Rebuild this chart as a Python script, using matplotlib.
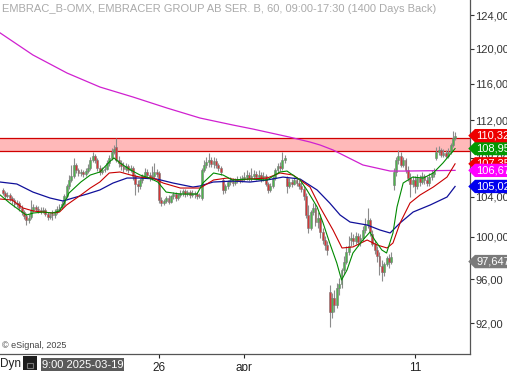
import matplotlib
matplotlib.use("Agg")
import matplotlib.pyplot as plt
import matplotlib.transforms as mtransforms
from matplotlib.path import Path
from matplotlib.patches import Rectangle
from matplotlib.ticker import FixedLocator, FixedFormatter, NullLocator
import numpy as np

TITLE = "EMBRAC_B-OMX, EMBRACER GROUP AB SER. B, 60, 09:00-17:30 (1400 Days Back)"

# hourly sessions shown (the first one is only partly on screen)
sessions = ["2025-03-14", "2025-03-17", "2025-03-18", "2025-03-19", "2025-03-20",
            "2025-03-21", "2025-03-24", "2025-03-25", "2025-03-26", "2025-03-27",
            "2025-03-28", "2025-03-31", "2025-04-01", "2025-04-02", "2025-04-03",
            "2025-04-04", "2025-04-07", "2025-04-08", "2025-04-09", "2025-04-10",
            "2025-04-11", "2025-04-14"]
bars_per_session = [3] + [9] * 21

tick_sessions = ["2025-03-26", "2025-04-01", "2025-04-11"]
tick_labels = ["26", "apr", "11"]

# OHLC, one row per session
opens = [
    104.66, 104.35, 104.05,
    104.15, 103.85, 103.65, 103.25, 103.35, 102.85, 102.45, 102.05, 101.66,
    101.95, 102.65, 102.95, 102.75, 102.65, 102.55, 102.65, 102.25, 101.95,
    102.25, 102.15, 102.45, 102.75, 102.95, 103.25, 104.05, 105.07, 105.68,
    106.09, 107.23, 106.71, 106.40, 106.50, 106.30, 106.61, 106.92, 107.75,
    108.17, 107.75, 106.92, 106.50, 106.71, 106.81, 107.44, 107.96, 108.59,
    109.11, 107.75, 107.44, 107.13, 106.81, 107.13, 106.71, 106.92, 106.09,
    105.27, 105.07, 105.68, 106.09, 106.50, 106.19, 105.88, 106.09, 106.50,
    106.40, 103.65, 103.35, 103.55, 103.85, 103.45, 104.05, 104.25, 103.85,
    104.15, 104.35, 104.56, 104.25, 104.45, 104.15, 104.35, 104.25, 104.05,
    103.85, 106.71, 107.23, 107.54, 107.75, 107.33, 107.65, 107.23, 106.92,
    105.68, 104.66, 105.07, 105.47, 105.68, 105.37, 105.57, 105.78, 105.68,
    105.88, 105.98, 106.19, 105.88, 106.09, 106.30, 105.98, 106.19, 105.88,
    106.09, 105.27, 104.66, 105.07, 105.88, 106.71, 107.13, 106.92, 107.75,
    105.88, 105.07, 105.47, 105.27, 105.68, 105.37, 105.07, 104.76, 104.05,
    102.15, 100.88, 102.45, 102.85, 101.46, 101.86, 100.48, 99.71, 99.23,
    94.81, 92.99, 94.26, 93.62, 95.18, 95.55, 96.85, 97.61, 98.56,
    99.71, 99.90, 99.61, 100.09, 99.52, 99.90, 100.68, 101.17, 101.66,
    100.29, 99.32, 98.75, 98.17, 97.23, 96.67, 97.42, 97.99, 97.61,
    105.17, 106.50, 107.75, 108.17, 107.23, 107.75, 106.71, 105.88, 105.27,
    105.68, 105.07, 105.88, 105.47, 106.09, 105.68, 105.37, 105.98, 106.30,
    107.96, 108.59, 108.80, 108.27, 108.48, 108.17, 108.59, 109.32, 110.07,
]
highs = [
    104.86, 104.56, 104.46,
    104.35, 104.05, 103.85, 103.65, 103.55, 103.15, 102.65, 102.35, 102.25,
    103.65, 103.25, 103.15, 103.05, 102.95, 102.95, 102.85, 102.45, 102.35,
    102.65, 102.75, 103.05, 103.25, 103.55, 104.25, 105.27, 106.19, 107.23,
    107.96, 107.44, 106.92, 106.81, 106.71, 106.92, 107.33, 108.06, 108.59,
    108.38, 107.96, 107.23, 107.02, 107.13, 107.75, 108.27, 109.01, 109.32,
    110.07, 108.17, 107.75, 107.54, 107.44, 107.33, 107.23, 107.13, 106.30,
    105.68, 105.88, 106.30, 106.92, 106.81, 106.50, 107.13, 107.44, 106.81,
    106.61, 103.95, 103.75, 104.05, 104.15, 104.15, 104.45, 104.45, 104.35,
    104.66, 104.76, 104.76, 104.66, 104.66, 104.66, 104.56, 104.45, 104.35,
    106.92, 107.75, 108.06, 108.48, 108.06, 108.06, 107.96, 107.44, 107.13,
    105.88, 105.27, 105.68, 105.98, 105.88, 105.88, 106.09, 106.09, 106.19,
    106.50, 106.71, 106.50, 106.92, 106.71, 106.61, 106.71, 106.50, 106.50,
    106.30, 105.47, 105.37, 106.09, 106.92, 107.44, 107.54, 108.59, 108.27,
    106.09, 105.88, 105.78, 105.98, 105.98, 105.68, 105.47, 105.07, 104.35,
    103.15, 102.65, 103.35, 103.25, 102.45, 102.25, 100.88, 100.09, 99.61,
    95.46, 94.72, 94.99, 95.64, 96.11, 97.04, 98.17, 99.13, 100.09,
    100.48, 100.29, 100.48, 100.39, 100.29, 101.07, 101.86, 102.85, 101.86,
    100.68, 99.71, 99.13, 98.56, 97.80, 97.61, 98.17, 98.37, 98.56,
    106.92, 108.06, 108.80, 108.59, 108.06, 107.96, 107.13, 106.40, 106.09,
    106.09, 106.30, 106.19, 106.50, 106.30, 106.09, 106.40, 106.71, 106.92,
    109.11, 109.22, 109.01, 108.90, 108.80, 109.01, 109.54, 110.81, 110.71,
]
lows = [
    104.15, 103.75, 103.85,
    103.55, 103.25, 102.95, 102.95, 102.55, 102.15, 101.76, 101.17, 101.37,
    101.76, 102.45, 102.55, 102.35, 102.25, 102.35, 102.05, 101.66, 101.76,
    101.66, 101.86, 102.25, 102.55, 102.75, 103.05, 103.85, 104.76, 105.47,
    105.88, 106.40, 106.09, 106.09, 105.98, 106.09, 106.40, 106.71, 107.54,
    107.44, 106.61, 106.19, 106.30, 106.50, 106.71, 107.13, 107.75, 108.38,
    107.54, 107.02, 106.71, 106.50, 106.61, 106.40, 106.50, 105.68, 104.15,
    104.45, 104.76, 105.37, 105.88, 105.88, 105.57, 105.68, 105.88, 105.98,
    103.35, 103.05, 103.15, 103.35, 103.25, 103.35, 103.75, 103.55, 103.65,
    103.95, 104.05, 103.95, 104.05, 103.85, 103.95, 103.85, 103.75, 103.85,
    103.65, 106.50, 106.92, 107.02, 107.02, 106.92, 106.92, 106.61, 106.19,
    104.25, 104.35, 104.76, 105.17, 105.07, 105.17, 105.37, 105.37, 105.47,
    105.57, 105.68, 105.57, 105.57, 105.78, 105.68, 105.78, 105.47, 105.57,
    105.07, 104.35, 104.45, 104.86, 105.68, 106.40, 106.61, 106.71, 107.44,
    104.35, 104.86, 104.96, 105.17, 105.07, 104.76, 104.45, 103.65, 101.86,
    100.39, 100.68, 102.15, 101.07, 100.88, 99.90, 99.32, 98.75, 98.27,
    91.65, 92.45, 92.99, 93.35, 94.54, 95.18, 96.48, 97.42, 98.27,
    99.13, 99.23, 99.32, 99.13, 99.13, 99.61, 100.39, 100.88, 100.09,
    99.13, 98.37, 97.61, 96.39, 95.83, 96.30, 97.23, 97.04, 97.42,
    104.66, 106.09, 107.33, 107.02, 107.02, 106.40, 105.57, 103.95, 104.96,
    104.35, 104.76, 105.07, 105.27, 105.27, 105.07, 105.07, 105.68, 105.98,
    107.75, 108.27, 108.06, 108.06, 107.96, 107.96, 108.38, 109.11, 109.86,
]
closes = [
    104.35, 104.05, 104.15,
    103.85, 103.65, 103.25, 103.35, 102.85, 102.45, 102.05, 101.66, 101.86,
    102.65, 102.95, 102.75, 102.65, 102.55, 102.65, 102.25, 101.95, 102.05,
    102.15, 102.45, 102.75, 102.95, 103.25, 104.05, 105.07, 105.68, 106.09,
    107.23, 106.71, 106.40, 106.50, 106.30, 106.61, 106.92, 107.75, 108.17,
    107.75, 106.92, 106.50, 106.71, 106.81, 107.44, 107.96, 108.59, 108.90,
    107.75, 107.44, 107.13, 106.81, 107.13, 106.71, 106.92, 106.09, 105.27,
    105.07, 105.68, 106.09, 106.50, 106.19, 105.88, 106.09, 106.50, 106.30,
    103.65, 103.35, 103.55, 103.85, 103.45, 104.05, 104.25, 103.85, 104.15,
    104.35, 104.56, 104.25, 104.45, 104.15, 104.35, 104.25, 104.05, 104.15,
    106.71, 107.23, 107.54, 107.75, 107.33, 107.65, 107.23, 106.92, 106.50,
    104.66, 105.07, 105.47, 105.68, 105.37, 105.57, 105.78, 105.68, 105.88,
    105.98, 106.19, 105.88, 106.09, 106.30, 105.98, 106.19, 105.88, 106.09,
    105.27, 104.66, 105.07, 105.88, 106.71, 107.13, 106.92, 107.75, 107.96,
    105.07, 105.47, 105.27, 105.68, 105.37, 105.07, 104.76, 104.05, 102.15,
    100.88, 102.45, 102.85, 101.46, 101.86, 100.48, 99.71, 99.23, 98.75,
    92.99, 94.26, 93.62, 95.18, 95.55, 96.85, 97.61, 98.56, 99.13,
    99.90, 99.61, 100.09, 99.52, 99.90, 100.68, 101.17, 101.66, 100.48,
    99.32, 98.75, 98.17, 97.23, 96.67, 97.42, 97.99, 97.61, 98.08,
    106.50, 107.75, 108.17, 107.23, 107.75, 106.71, 105.88, 105.27, 105.68,
    105.07, 105.88, 105.47, 106.09, 105.68, 105.37, 105.98, 106.30, 106.50,
    108.59, 108.80, 108.27, 108.48, 108.17, 108.59, 109.32, 110.07, 110.32,
]

# moving averages (x = bar number)
fast_x = [-1, 3, 7, 10, 13, 17, 21, 24, 26, 28, 33, 37, 41, 45, 47, 49.5, 54, 58,
          62, 65.5, 69, 75, 82, 84.5, 89, 93, 97, 104, 111.5, 117, 120, 125.5,
          128.4, 132.7, 135.2, 138, 141, 143, 145.3, 147.8, 152, 155, 157, 160,
          162, 164.7, 166.4, 169, 173, 177.5, 181.7, 185.8, 190.9]
fast_ma = [104.15, 103.35, 102.65, 102.15, 102.35, 102.45, 102.35, 102.55, 103.35,
           104.35, 105.47, 106.19, 106.50, 107.54, 107.96, 107.44, 106.71, 106.19,
           105.88, 105.47, 104.45, 104.25, 104.25, 105.37, 106.40, 106.19, 105.68,
           105.78, 105.68, 106.50, 106.60, 105.68, 104.66, 102.95, 101.37, 99.42,
           97.51, 95.92, 96.85, 98.46, 99.71, 100.48, 99.71, 98.75, 98.46, 100.39,
           102.95, 105.37, 105.98, 105.88, 106.40, 107.44, 108.95]

mid_x = [-1, 4, 8.6, 13, 17, 21, 24, 27, 33, 37, 41, 45, 49.5, 54, 58, 63.5, 67.7,
         75, 83.3, 89, 94.7, 99, 104, 111.6, 117, 122.5, 129.7, 133.9, 139.4,
         143.2, 147.8, 153.8, 158, 162.2, 164.7, 167.7, 171.9, 176.1, 181.7,
         187.5, 190.9]
mid_ma = [103.75, 103.65, 102.85, 102.55, 102.45, 102.35, 102.45, 103.15, 104.15,
          104.86, 105.47, 106.40, 106.50, 106.19, 105.98, 105.88, 105.37, 104.86,
          104.86, 105.68, 105.88, 105.68, 105.78, 105.88, 106.40, 106.19, 104.96,
          102.95, 100.68, 98.94, 99.04, 99.71, 99.23, 98.94, 99.42, 101.37, 103.35,
          104.15, 104.96, 105.98, 107.35]

slow_x = [-1, 6, 12.8, 20, 25.5, 29.7, 35.6, 41, 46.6, 52.5, 58, 65, 71.9, 80.3,
          83.3, 88.8, 97.2, 104.4, 111.6, 118.3, 125.5, 132.7, 138, 142.4, 146.6,
          153.8, 159.2, 163.5, 167.7, 173.2, 180.4, 187.5, 190.9]
slow_ma = [105.47, 105.27, 104.45, 103.85, 103.55, 103.85, 104.25, 104.66, 105.37,
           105.88, 105.88, 105.78, 105.37, 104.96, 105.07, 105.47, 105.57, 105.47,
           105.68, 105.98, 105.78, 104.66, 103.35, 102.15, 101.46, 101.17, 100.68,
           100.39, 101.37, 102.45, 103.15, 103.95, 105.02]

long_x = [-1, 12.8, 27.2, 41.1, 55, 69.4, 83.3, 97.2, 105.6, 121, 129.7, 134, 139.4,
          145.3, 152, 163.5, 170, 190.9]
long_ma = [121.86, 119.29, 117.22, 115.64, 114.53, 113.31, 112.22, 111.46, 111.03,
           110.17, 109.64, 109.32, 108.80, 108.06, 107.23, 106.60, 106.60, 106.67]

zone_low, zone_high = 108.70, 110.05

y_ticks = [92, 96, 100, 104, 108, 112, 116, 120, 124]

tag_values = [97.647, 105.02, 107.35, 106.67, 108.95, 110.32]
tag_texts = ["97,647", "105,02", "107,35", "106,67", "108,95", "110,32"]
tag_colors = ["#7a7a7a", "#0000ee", "#ee0000", "#ff00ff", "#009900", "#ee0000"]


def tag_box(x0, y0, width, height, mutation_size):
    # price tag: pointed on the left, runs off the right edge
    pad = mutation_size * 0.15
    x0, y0 = x0 - pad, y0 - pad
    height = height + 2 * pad
    tip = height / 2
    x1 = x0 + width + 60
    verts = [(x0 - tip, y0 + tip), (x0, y0), (x1, y0), (x1, y0 + height),
             (x0, y0 + height), (x0 - tip, y0 + tip), (x0 - tip, y0 + tip)]
    codes = [Path.MOVETO] + [Path.LINETO] * 5 + [Path.CLOSEPOLY]
    return Path(verts, codes)


plt.rcParams['font.family'] = ['Liberation Sans', 'DejaVu Sans']

fig = plt.figure(figsize=(5.07, 3.71), dpi=100)
ax = fig.add_axes([0, 17 / 371, 470 / 507, 354 / 371])

o = np.array(opens)
h = np.array(highs)
l = np.array(lows)
c = np.array(closes)
x = np.arange(len(c))

# zone
ax.axhspan(zone_low, zone_high, color='#ffb9b9', lw=0, zorder=1)
ax.axhline(zone_low, color='#d00000', lw=0.9, zorder=1.5)
ax.axhline(zone_high, color='#d00000', lw=0.9, zorder=1.5)

# candles
ax.vlines(x, l, h, color='#8c8c8c', lw=0.8, zorder=3)
up = c >= o
ax.bar(x[up], (c - o)[up], bottom=o[up], width=0.8, color='#4db54d',
       edgecolor='#7a7a7a', lw=0.4, zorder=4)
ax.bar(x[~up], (c - o)[~up], bottom=o[~up], width=0.8, color='#d43636',
       edgecolor='#7a7a7a', lw=0.4, zorder=4)

# averages
ax.plot(long_x, long_ma, color='#d020d0', lw=0.9, zorder=5)
ax.plot(slow_x, slow_ma, color='#10109a', lw=0.9, zorder=5)
ax.plot(mid_x, mid_ma, color='#c80000', lw=0.8, zorder=5)
ax.plot(fast_x, fast_ma, color='#008a00', lw=0.8, zorder=5)

ax.set_yscale('log')
ax.set_ylim(89.28, 125.82)
ax.set_xlim(-1.1, 197.2)

ax.yaxis.tick_right()
ax.yaxis.set_major_locator(FixedLocator(y_ticks))
ax.yaxis.set_major_formatter(FixedFormatter([f"{v},00" for v in y_ticks]))
ax.yaxis.set_minor_locator(NullLocator())

starts = np.cumsum([0] + bars_per_session[:-1])
tick_pos = [starts[sessions.index(s)] for s in tick_sessions]
ax.xaxis.set_major_locator(FixedLocator(tick_pos))
ax.xaxis.set_major_formatter(FixedFormatter(tick_labels))
ax.xaxis.set_minor_locator(NullLocator())

ax.tick_params(axis='y', direction='out', length=3, width=0.8, pad=1,
               labelsize=8, colors='#333333')
ax.tick_params(axis='x', direction='out', length=3, width=0.8, pad=3,
               labelsize=8.5, colors='#222222')
for side in ['left', 'top']:
    ax.spines[side].set_visible(False)
for side in ['right', 'bottom']:
    ax.spines[side].set_color('#555555')
    ax.spines[side].set_linewidth(0.9)

# price tags on the right axis
trans = mtransforms.blended_transform_factory(ax.transAxes, ax.transData)
for val, txt, col in zip(tag_values, tag_texts, tag_colors):
    ax.text(1.014, val, txt, transform=trans, ha='left', va='center',
            fontsize=8, color='white', clip_on=False, zorder=10,
            bbox=dict(boxstyle=tag_box, fc=col, ec='none'))

fig.text(2 / 507, 1 - 9 / 371, TITLE, fontsize=8, color='#aaaaaa', va='center')
fig.text(2 / 507, 1 - 345 / 371, "\u00a9 eSignal, 2025", fontsize=6.5,
         color='#444444', va='center')

# bottom status row
fig.text(0, 1 - 364 / 371, "Dyn", fontsize=8.5, color='#222222', va='center')
fig.patches.append(Rectangle((23 / 507, 1 / 371), 14 / 507, 14 / 371,
                             transform=fig.transFigure, fc='#1e1e1e', ec='none'))
fig.patches.append(Rectangle((27 / 507, 3 / 371), 6 / 507, 5 / 371,
                             transform=fig.transFigure, fc='none', ec='#777777', lw=0.8))
fig.patches.append(Rectangle((41 / 507, 0), 83 / 507, 13 / 371,
                             transform=fig.transFigure, fc='#5a5a5a', ec='none'))
fig.text(82.5 / 507, 1 - 365 / 371, "9:00 2025-03-19", fontsize=8, color='white',
         ha='center', va='center')

fig.savefig("out.png", dpi=100)
